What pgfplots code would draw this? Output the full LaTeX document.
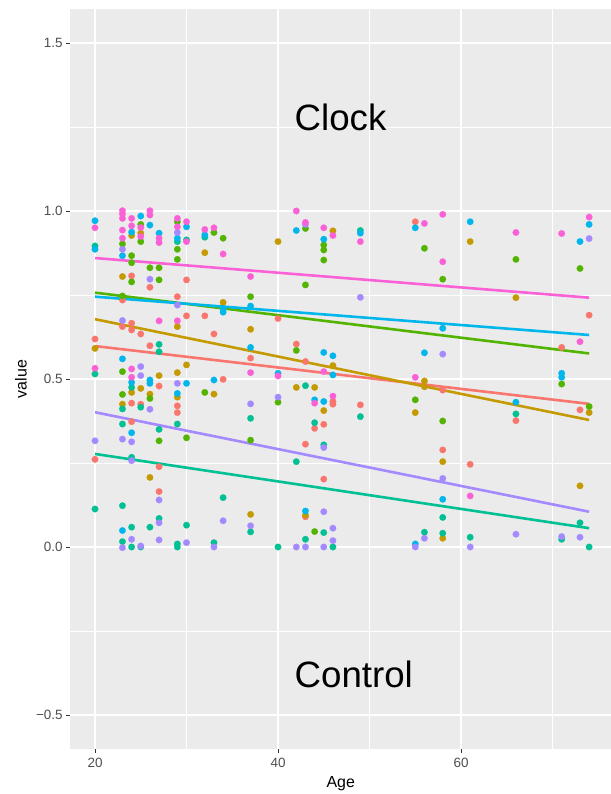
\documentclass[border=0pt]{standalone}
\usepackage{fontspec}
\setmainfont{Liberation Sans}
\usepackage{pgfplots}
\pgfplotsset{compat=1.18}

% ggplot2 hue palette, seven groups
\definecolor{cSalmon}{HTML}{F8766D}
\definecolor{cGold}{HTML}{C49A00}
\definecolor{cGreen}{HTML}{53B400}
\definecolor{cTeal}{HTML}{00C094}
\definecolor{cBlue}{HTML}{00B6EB}
\definecolor{cPurple}{HTML}{A58AFF}
\definecolor{cPink}{HTML}{FB61D7}
\definecolor{panelgray}{HTML}{EBEBEB}
\definecolor{tickgray}{HTML}{333333}
\definecolor{labelgray}{HTML}{4D4D4D}

\pgfplotsset{
  pts/.style={only marks, mark=*, mark size=3.3bp, color=#1,
    mark options={line width=0.1bp}},
  fit/.style={no marks, line width=2.6bp, color=#1},
}

\begin{document}
\begin{tikzpicture}
\useasboundingbox (-70.3bp,-45.4bp) rectangle (540.7bp,748.6bp);
\begin{axis}[
  at={(0,0)}, anchor=south west,
  scale only axis, width=540.8bp, height=739.2bp,
  xmin=17.3, xmax=76.4, ymin=-0.6, ymax=1.6,
  axis background/.style={fill=panelgray},
  axis line style={draw=none},
  xtick={20,40,60}, minor xtick={30,50,70},
  ytick={-0.5,0,0.5,1,1.5}, minor ytick={-0.25,0.25,0.75,1.25},
  yticklabels={−0.5,0.0,0.5,1.0,1.5},
  xticklabels={20,40,60},
  grid=both,
  major grid style={white, line width=1.1bp},
  minor grid style={white, line width=0.55bp},
  tick pos=left, tick align=outside,
  major tick length=4.2bp, minor tick length=0pt,
  tick style={color=tickgray, line width=0.9bp},
  xticklabel style={font=\fontsize{13.5}{15}\selectfont, text=labelgray, yshift=-2.2bp},
  yticklabel style={font=\fontsize{13.5}{15}\selectfont, text=labelgray},
  xlabel={Age}, ylabel={value},
  xlabel style={font=\fontsize{16}{18}\selectfont, at={(axis description cs:0.5,0)}, anchor=base, yshift=-39bp},
  % the label is turned by 90 degrees, so its own y direction points left
  ylabel style={font=\fontsize{16}{18}\selectfont, at={(axis description cs:0,0.5)}, anchor=center, yshift=49.3bp},
  clip=false,
]

% individual observations
\addplot[pts=cSalmon] coordinates {
 (20,0.619) (20,0.261) (23,0.735) (23,0.656) (24,0.807) (24,0.666) (24,0.646)
 (24,0.428) (24,0.373) (25,0.634) (25,0.425) (26,0.773) (26,0.599) (27,0.479)
 (27,0.239) (27,0.165) (29,0.745) (29,0.420) (29,0.400) (30,0.795) (30,0.688)
 (32,0.688) (33,0.634) (34,0.499) (37,0.562) (40,0.680) (42,0.604) (43,0.552)
 (43,0.306) (43,0.090) (44,0.353) (45,0.365) (45,0.202) (46,0.433) (46,0.425)
 (49,0.423) (55,0.968) (58,0.467) (58,0.289) (61,0.246) (66,0.376) (71,0.594)
 (73,0.408) (74,0.690)
};
\addplot[pts=cGold] coordinates {
 (20,0.591) (23,0.805) (23,0.425) (24,0.927) (24,0.460) (25,0.934) (25,0.472)
 (26,0.455) (26,0.207) (27,0.510) (29,0.656) (29,0.519) (29,0.446) (30,0.542)
 (32,0.876) (33,0.455) (34,0.728) (37,0.648) (37,0.097) (40,0.909) (42,0.475)
 (43,0.095) (44,0.475) (45,0.406) (46,0.941) (46,0.540) (55,0.400) (56,0.494)
 (56,0.477) (58,0.254) (58,0.026) (61,0.909) (66,0.742) (73,0.182) (74,0.400)
};
\addplot[pts=cGreen] coordinates {
 (23,0.902) (23,0.747) (23,0.522) (23,0.454) (24,0.867) (24,0.846) (24,0.789)
 (25,0.960) (25,0.909) (26,0.831) (26,0.442) (27,0.831) (27,0.795) (27,0.316)
 (29,0.968) (29,0.886) (29,0.856) (30,0.325) (32,0.460) (33,0.936) (34,0.919)
 (37,0.745) (37,0.318) (40,0.431) (42,0.585) (43,0.948) (43,0.780) (44,0.046)
 (45,0.899) (45,0.884) (45,0.854) (55,0.438) (56,0.889) (58,0.797) (58,0.375)
 (66,0.856) (71,0.485) (73,0.829) (74,0.418)
};
\addplot[pts=cTeal] coordinates {
 (20,0.896) (20,0.515) (20,0.113) (23,0.411) (23,0.366) (23,0.123) (23,0.016)
 (24,0.475) (24,0.267) (24,0.059) (24,0.000) (25,0.416) (25,0.000) (26,0.059)
 (27,0.603) (27,0.581) (27,0.350) (27,0.085) (29,0.909) (29,0.366) (29,0.009)
 (29,0.000) (30,0.914) (30,0.065) (32,0.922) (33,0.013) (34,0.147) (37,0.383)
 (37,0.045) (40,0.000) (42,0.254) (43,0.480) (43,0.023) (44,0.370) (45,0.304)
 (45,0.043) (46,0.000) (49,0.942) (49,0.388) (56,0.044) (58,0.088) (58,0.041)
 (61,0.029) (66,0.396) (71,0.023) (73,0.072) (74,0.000)
};
\addplot[pts=cBlue] coordinates {
 (20,0.971) (20,0.886) (23,0.867) (23,0.560) (23,0.049) (24,0.937) (24,0.490)
 (24,0.340) (25,0.985) (26,0.958) (26,0.497) (26,0.487) (27,0.934) (29,0.919)
 (29,0.457) (30,0.953) (30,0.487) (32,0.929) (33,0.497) (34,0.710) (34,0.699)
 (37,0.717) (37,0.594) (40,0.517) (42,0.942) (43,0.107) (44,0.438) (45,0.916)
 (45,0.579) (45,0.433) (46,0.569) (46,0.512) (49,0.934) (55,0.950) (55,0.009)
 (56,0.578) (58,0.651) (58,0.142) (61,0.968) (66,0.431) (71,0.517) (71,0.505)
 (73,0.909) (74,0.960)
};
\addplot[pts=cPurple] coordinates {
 (20,0.316) (23,0.886) (23,0.674) (23,0.321) (23,-0.002) (24,0.313) (24,0.257)
 (24,0.023) (25,0.537) (25,0.510) (25,0.003) (26,0.797) (26,0.410) (27,0.140)
 (27,0.072) (27,0.021) (29,0.936) (29,0.720) (29,0.487) (30,0.013) (33,0.000)
 (34,0.078) (37,0.426) (37,0.063) (40,0.446) (42,0.000) (43,0.960) (43,0.000)
 (45,0.296) (45,0.105) (45,0.000) (46,0.056) (46,0.019) (49,0.743) (55,0.000)
 (56,0.026) (58,0.574) (58,0.204) (61,0.000) (66,0.038) (71,0.031) (73,0.029)
 (74,0.918)
};
\addplot[pts=cPink] coordinates {
 (20,0.950) (20,0.532) (23,1.001) (23,0.991) (23,0.978) (23,0.943) (23,0.919)
 (24,0.978) (24,0.956) (24,0.530) (24,0.505) (25,0.951) (25,0.924) (26,1.001)
 (26,0.988) (27,0.919) (27,0.906) (27,0.673) (29,0.978) (29,0.953) (29,0.673)
 (30,0.968) (30,0.909) (32,0.945) (33,0.950) (34,0.872) (37,0.805) (37,0.519)
 (40,0.509) (42,1.000) (43,0.966) (44,0.428) (45,0.950) (45,0.522) (46,0.927)
 (46,0.449) (49,0.909) (55,0.505) (56,0.963) (58,0.990) (58,0.849) (61,0.152)
 (66,0.936) (71,0.933) (73,0.611) (74,0.982)
};

% linear fits per group
\addplot[fit=cSalmon] coordinates {(20,0.598) (74,0.426)};
\addplot[fit=cGold]   coordinates {(20,0.678) (74,0.378)};
\addplot[fit=cGreen]  coordinates {(20,0.757) (74,0.576)};
\addplot[fit=cTeal]   coordinates {(20,0.277) (74,0.056)};
\addplot[fit=cBlue]   coordinates {(20,0.745) (74,0.631)};
\addplot[fit=cPurple] coordinates {(20,0.401) (74,0.105)};
\addplot[fit=cPink]   coordinates {(20,0.860) (74,0.742)};

\node[anchor=base west, inner sep=0pt, font=\fontsize{36.8}{40}\selectfont] at (axis cs:41.8,1.241) {Clock};
\node[anchor=base west, inner sep=0pt, font=\fontsize{36.8}{40}\selectfont] at (axis cs:41.8,-0.417) {Control};
\end{axis}
\end{tikzpicture}
\end{document}
